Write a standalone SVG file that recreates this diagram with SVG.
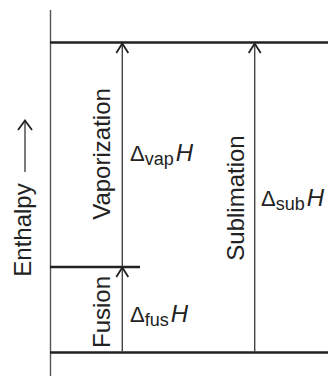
<svg xmlns="http://www.w3.org/2000/svg" width="328" height="378" viewBox="0 0 328 378">
  <style>
    .lvl { stroke: #222; stroke-width: 2.6; fill: none; }
    .ax { stroke: #555; stroke-width: 1.4; fill: none; }
    .arr { stroke: #444; stroke-width: 1.4; fill: none; }
    .head { stroke: #222; stroke-width: 1.8; fill: none; stroke-linejoin: miter; }
    .lab { font-family: "Liberation Sans", Arial, sans-serif; font-size: 24px; fill: #222; }
    .dl { font-family: "Liberation Sans", Arial, sans-serif; font-size: 22px; fill: #222; }
    .sub { font-size: 18px; }
    .it { font-style: italic; font-size: 24px; }
  </style>
  <rect width="328" height="378" fill="#fff"/>

  <g id="axis">
    <line class="ax" x1="50.5" y1="10" x2="50.5" y2="376"/>
    <g id="enthalpy-label">
      <text class="lab" transform="translate(31,230) rotate(-90)" text-anchor="middle">Enthalpy</text>
      <line class="arr" x1="25" y1="172" x2="25" y2="121"/>
      <polyline class="head" points="18,130 25,120.5 32,130"/>
    </g>
  </g>

  <g id="level-gas">
    <line class="lvl" x1="50" y1="42.5" x2="328" y2="42.5"/>
  </g>
  <g id="level-liquid">
    <line class="lvl" x1="50" y1="267" x2="140" y2="267"/>
  </g>
  <g id="level-solid">
    <line class="lvl" x1="50" y1="352.5" x2="328" y2="352.5"/>
  </g>

  <g id="connectors">
    <g id="vaporization-arrow">
      <line class="arr" x1="122.3" y1="267" x2="122.3" y2="44"/>
      <polyline class="head" points="116.3,53 122.3,43.5 128.3,53"/>
    </g>
    <g id="fusion-arrow">
      <line class="arr" x1="122.3" y1="352" x2="122.3" y2="268"/>
      <polyline class="head" points="116.3,277 122.3,267.5 128.3,277"/>
    </g>
    <g id="sublimation-arrow">
      <line class="arr" x1="254.7" y1="352" x2="254.7" y2="44"/>
      <polyline class="head" points="248.7,53 254.7,43.5 260.7,53"/>
    </g>
  </g>

  <g id="vaporization">
    <text class="lab" transform="translate(110,154) rotate(-90)" text-anchor="middle">Vaporization</text>
    <text class="dl" x="130" y="161">Δ<tspan class="sub" dy="4">vap</tspan><tspan class="it" dy="-4" dx="2">H</tspan></text>
  </g>

  <g id="fusion">
    <text class="lab" transform="translate(110,312) rotate(-90)" text-anchor="middle">Fusion</text>
    <text class="dl" x="130" y="322">Δ<tspan class="sub" dy="4">fus</tspan><tspan class="it" dy="-4" dx="2">H</tspan></text>
  </g>

  <g id="sublimation">
    <text class="lab" transform="translate(244,198) rotate(-90)" text-anchor="middle">Sublimation</text>
    <text class="dl" x="261" y="206">Δ<tspan class="sub" dy="4">sub</tspan><tspan class="it" dy="-4" dx="2">H</tspan></text>
  </g>
</svg>
